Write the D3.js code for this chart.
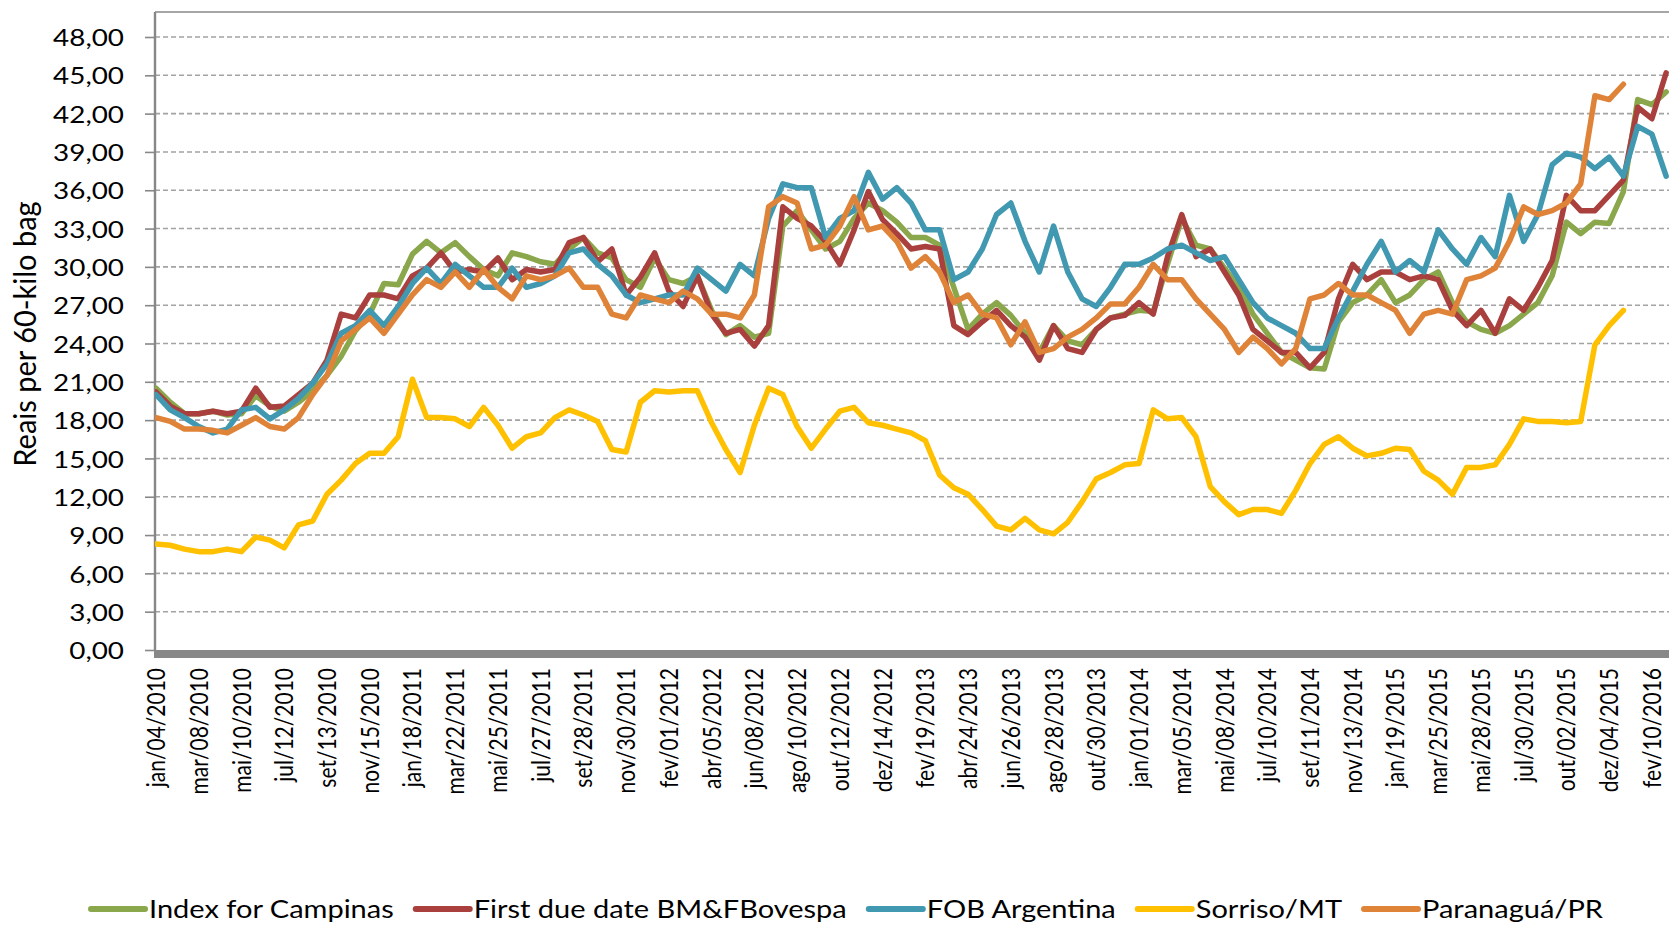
<!DOCTYPE html>
<html>
<head>
<meta charset="utf-8">
<script src="https://cdn.jsdelivr.net/npm/d3@7"></script>
<style>
  body { margin: 0; background: #fff; }
  svg { display: block; }
  text { font-family: Lato, "Open Sans", sans-serif; fill: #000; }
</style>
</head>
<body>
<svg id="chart" width="1669" height="925"></svg>
<script>
// category labels, one every 45 trading days
const dateLabels = [
  "jan/04/2010", "mar/08/2010", "mai/10/2010", "jul/12/2010", "set/13/2010", "nov/15/2010",
  "jan/18/2011", "mar/22/2011", "mai/25/2011", "jul/27/2011", "set/28/2011", "nov/30/2011",
  "fev/01/2012", "abr/05/2012", "jun/08/2012", "ago/10/2012", "out/12/2012", "dez/14/2012",
  "fev/19/2013", "abr/24/2013", "jun/26/2013", "ago/28/2013", "out/30/2013", "jan/01/2014",
  "mar/05/2014", "mai/08/2014", "jul/10/2014", "set/11/2014", "nov/13/2014", "jan/19/2015",
  "mar/25/2015", "mai/28/2015", "jul/30/2015", "out/02/2015", "dez/04/2015", "fev/10/2016"
];
const labelStep = 45;     // trading days between labels
const sampleStep = 15;    // trading days between the values below
const lastIndex = 1593;   // last trading day visible

const yTicks = [0, 3, 6, 9, 12, 15, 18, 21, 24, 27, 30, 33, 36, 39, 42, 45, 48];

// values, one every 15 trading days
const campinas = [
  20.5, 19.4, 18.5, 18.5, 18.7, 18.4, 18.5, 19.9, 19.1, 18.7,
  19.4, 20.3, 21.5, 23.0, 25.0, 26.3, 28.7, 28.6, 31.0, 32.0,
  31.1, 31.9, 30.8, 29.8, 29.3, 31.1, 30.8, 30.4, 30.2, 31.4,
  32.3, 31.1, 30.7, 29.0, 28.4, 30.7, 29.0, 28.7, 29.3, 26.6,
  24.7, 25.4, 24.5, 24.8, 33.2, 34.4, 32.9, 31.4, 32.0, 33.8,
  35.0, 34.4, 33.5, 32.3, 32.3, 31.7, 28.4, 25.1, 26.3, 27.2,
  26.2, 24.8, 23.3, 25.4, 24.2, 23.9, 25.1, 26.0, 26.3, 26.6,
  26.5, 30.2, 33.8, 31.7, 31.4, 29.9, 28.4, 26.3, 24.8, 23.3,
  22.7, 22.1, 22.0, 25.7, 27.2, 27.8, 29.0, 27.2, 27.8, 29.0,
  29.6, 27.2, 25.7, 25.1, 24.8, 25.4, 26.3, 27.2, 29.3, 33.5,
  32.6, 33.5, 33.4, 35.9, 43.1, 42.7, 43.7
];
const bmfBovespa = [
  20.2, 19.1, 18.5, 18.5, 18.7, 18.5, 18.7, 20.5, 19.0, 19.1,
  20.0, 20.9, 22.7, 26.3, 26.0, 27.8, 27.8, 27.5, 29.3, 29.9,
  31.1, 29.6, 29.8, 29.6, 30.7, 29.0, 29.8, 29.6, 29.8, 31.9,
  32.3, 30.4, 31.4, 27.8, 29.2, 31.1, 28.1, 26.9, 29.3, 26.3,
  24.8, 25.1, 23.8, 25.4, 34.7, 33.8, 33.2, 32.0, 30.2, 32.9,
  35.9, 33.7, 32.6, 31.4, 31.6, 31.4, 25.4, 24.7, 25.7, 26.6,
  25.4, 24.5, 22.7, 25.4, 23.6, 23.3, 25.1, 26.0, 26.2, 27.2,
  26.3, 30.8, 34.1, 30.8, 31.4, 29.6, 27.8, 25.1, 24.2, 23.3,
  23.3, 22.1, 23.3, 27.5, 30.2, 29.0, 29.6, 29.6, 29.0, 29.3,
  29.0, 26.6, 25.4, 26.6, 24.8, 27.5, 26.6, 28.4, 30.5, 35.6,
  34.4, 34.4, 35.6, 36.8, 42.5, 41.6, 45.2
];
const fobArgentina = [
  20.0, 18.8, 18.2, 17.5, 17.0, 17.3, 18.8, 19.0, 18.1, 18.8,
  19.7, 20.9, 22.4, 24.8, 25.4, 26.6, 25.4, 26.9, 28.7, 29.9,
  28.7, 30.2, 29.3, 28.4, 28.4, 29.9, 28.4, 28.7, 29.3, 31.1,
  31.4, 30.2, 29.3, 27.8, 27.2, 27.5, 27.8, 27.8, 29.9, 29.0,
  28.1, 30.2, 29.3, 33.8, 36.5, 36.2, 36.2, 32.3, 33.8, 34.4,
  37.4, 35.3, 36.2, 35.0, 32.9, 32.9, 29.0, 29.6, 31.4, 34.1,
  35.0, 32.0, 29.6, 33.2, 29.6, 27.5, 26.9, 28.4, 30.2, 30.2,
  30.7, 31.4, 31.7, 31.1, 30.5, 30.8, 29.0, 27.2, 26.0, 25.4,
  24.8, 23.6, 23.6, 26.0, 28.1, 30.2, 32.0, 29.6, 30.5, 29.6,
  32.9, 31.4, 30.2, 32.3, 30.8, 35.6, 32.0, 34.1, 38.0, 38.9,
  38.6, 37.7, 38.6, 37.1, 41.0, 40.4, 37.1
];
const sorriso = [
  8.3, 8.2, 7.9, 7.7, 7.7, 7.9, 7.7, 8.85, 8.6, 8.0,
  9.8, 10.1, 12.2, 13.3, 14.6, 15.4, 15.4, 16.7, 21.2, 18.2,
  18.2, 18.1, 17.5, 19.0, 17.6, 15.8, 16.7, 17.0, 18.2, 18.8,
  18.4, 17.9, 15.7, 15.5, 19.4, 20.3, 20.2, 20.3, 20.3, 17.8,
  15.7, 13.9, 17.6, 20.5, 20.0, 17.5, 15.8, 17.3, 18.7, 19.0,
  17.8, 17.6, 17.3, 17.0, 16.4, 13.7, 12.7, 12.2, 11.0, 9.7,
  9.4, 10.3, 9.4, 9.1, 10.0, 11.6, 13.4, 13.9, 14.5, 14.6,
  18.8, 18.1, 18.2, 16.7, 12.8, 11.6, 10.6, 11.0, 11.0, 10.7,
  12.5, 14.6, 16.1, 16.7, 15.8, 15.2, 15.4, 15.8, 15.7, 14.0,
  13.3, 12.2, 14.3, 14.3, 14.5, 16.1, 18.1, 17.9, 17.9, 17.8,
  17.9, 23.9, 25.4, 26.6
];
const paranagua = [
  18.2, 17.9, 17.3, 17.3, 17.2, 17.0, 17.6, 18.2, 17.5, 17.3,
  18.2, 20.0, 21.5, 24.2, 25.1, 26.0, 24.8, 26.3, 27.8, 29.0,
  28.4, 29.6, 28.4, 29.8, 28.4, 27.5, 29.3, 29.0, 29.3, 29.9,
  28.4, 28.4, 26.3, 26.0, 27.8, 27.5, 27.2, 28.1, 27.5, 26.3,
  26.3, 26.0, 27.8, 34.7, 35.5, 35.0, 31.4, 31.7, 33.2, 35.5,
  32.9, 33.2, 32.0, 29.9, 30.8, 29.6, 27.2, 27.8, 26.3, 26.0,
  23.9, 25.7, 23.3, 23.6, 24.5, 25.1, 26.0, 27.1, 27.1, 28.4,
  30.2, 29.0, 29.0, 27.5, 26.3, 25.1, 23.3, 24.5, 23.6, 22.4,
  23.6, 27.5, 27.8, 28.7, 27.8, 27.8, 27.2, 26.6, 24.8, 26.3,
  26.6, 26.3, 29.0, 29.3, 29.9, 32.0, 34.7, 34.1, 34.4, 35.0,
  36.5, 43.4, 43.1, 44.3
];

const series = [
  { name: "Index for Campinas",         values: campinas,     color: "#8aa74b" },
  { name: "First due date BM&FBovespa", values: bmfBovespa,   color: "#a9403d" },
  { name: "FOB Argentina",              values: fobArgentina, color: "#4198b1" },
  { name: "Sorriso/MT",                 values: sorriso,      color: "#ffc000" },
  { name: "Paranaguá/PR",               values: paranagua,    color: "#df8339" }
];

const W = 1669, H = 925;
const plot = { left: 155, top: 12, right: W, bottom: 650 };
const stretch = 1.16;   // the picture is wider than its type

const svg = d3.select("#chart");

const x = d3.scaleLinear().domain([0, lastIndex]).range([plot.left + 1, W]);
const y = d3.scaleLinear().domain([0, 48]).range([plot.bottom, 37]);

svg.append("defs").append("clipPath").attr("id", "clip")
  .append("rect")
  .attr("x", plot.left).attr("y", plot.top)
  .attr("width", plot.right - plot.left).attr("height", plot.bottom - plot.top);

// gridlines
svg.append("g")
  .selectAll("line")
  .data(yTicks.filter(d => d > 0))
  .join("line")
  .attr("x1", plot.left).attr("x2", plot.right)
  .attr("y1", d => y(d)).attr("y2", d => y(d))
  .attr("stroke", "#a3a3a3")
  .attr("stroke-width", 1.6)
  .attr("stroke-dasharray", "5,3");

// y axis
const fmt = d => d3.format(".2f")(d).replace(".", ",");
const yAxis = svg.append("g")
  .attr("transform", `translate(${plot.left},0)`)
  .call(d3.axisLeft(y).tickValues(yTicks).tickSize(10).tickSizeOuter(0).tickFormat(fmt));
yAxis.select(".domain").remove();
yAxis.selectAll(".tick line").attr("stroke", "#888").attr("stroke-width", 1.6);
yAxis.selectAll(".tick text")
  .attr("x", null)
  .attr("dy", "0.36em")
  .attr("transform", `translate(-31,0) scale(${stretch},1)`)
  .style("font-size", "24px");

// frame
svg.append("line")
  .attr("x1", plot.left).attr("x2", plot.right)
  .attr("y1", plot.top).attr("y2", plot.top)
  .attr("stroke", "#a6a6a6").attr("stroke-width", 1.8);
svg.append("line")
  .attr("x1", plot.left).attr("x2", plot.left)
  .attr("y1", plot.top).attr("y2", plot.bottom)
  .attr("stroke", "#878787").attr("stroke-width", 2.4);

// x axis: daily tick marks make a solid band under the zero line
svg.append("rect")
  .attr("x", plot.left - 1).attr("y", plot.bottom)
  .attr("width", plot.right - plot.left + 1).attr("height", 8)
  .attr("fill", "#888");

const xAxis = svg.append("g")
  .attr("transform", `translate(0,${plot.bottom})`)
  .call(d3.axisBottom(x)
    .tickValues(dateLabels.map((d, i) => i * labelStep))
    .tickSize(0)
    .tickFormat(d => dateLabels[d / labelStep]));
xAxis.select(".domain").remove();
xAxis.selectAll(".tick text")
  .attr("x", 0).attr("y", 0)
  .attr("dy", "0.35em")
  .attr("text-anchor", "end")
  .attr("transform", `translate(0,18) scale(${stretch},1) rotate(-90)`)
  .style("font-size", "21px");

// y axis title
svg.append("text")
  .attr("transform", `translate(36,334) scale(1.05,1) rotate(-90)`)
  .attr("text-anchor", "middle")
  .style("font-size", "29px")
  .text("Reais per 60-kilo bag");

// series
const line = d3.line()
  .x((d, i) => x(i * sampleStep))
  .y(d => y(d));

svg.append("g").attr("clip-path", "url(#clip)")
  .selectAll("path")
  .data(series)
  .join("path")
  .attr("d", d => line(d.values))
  .attr("fill", "none")
  .attr("stroke", d => d.color)
  .attr("stroke-width", 5.5)
  .attr("stroke-linejoin", "round")
  .attr("stroke-linecap", "round");

// legend
const legend = svg.append("g").attr("transform", "translate(0,909)");
const swatch = 54, textGap = 4, itemGap = 22;
const items = legend.selectAll("g").data(series).join("g");
items.append("line")
  .attr("x1", 0).attr("x2", swatch)
  .attr("stroke", d => d.color)
  .attr("stroke-width", 6)
  .attr("stroke-linecap", "round");
items.append("text")
  .attr("transform", `translate(${swatch + textGap},0) scale(${stretch},1)`)
  .attr("dy", "0.36em")
  .style("font-size", "25px")
  .text(d => d.name);

let widths = [];
items.each(function () {
  widths.push(swatch + textGap + d3.select(this).select("text").node().getComputedTextLength() * stretch);
});
const total = d3.sum(widths) + itemGap * (widths.length - 1);
let cx = 847 - total / 2;
items.attr("transform", (d, i) => {
  const t = `translate(${cx},0)`;
  cx += widths[i] + itemGap;
  return t;
});
</script>
</body>
</html>
